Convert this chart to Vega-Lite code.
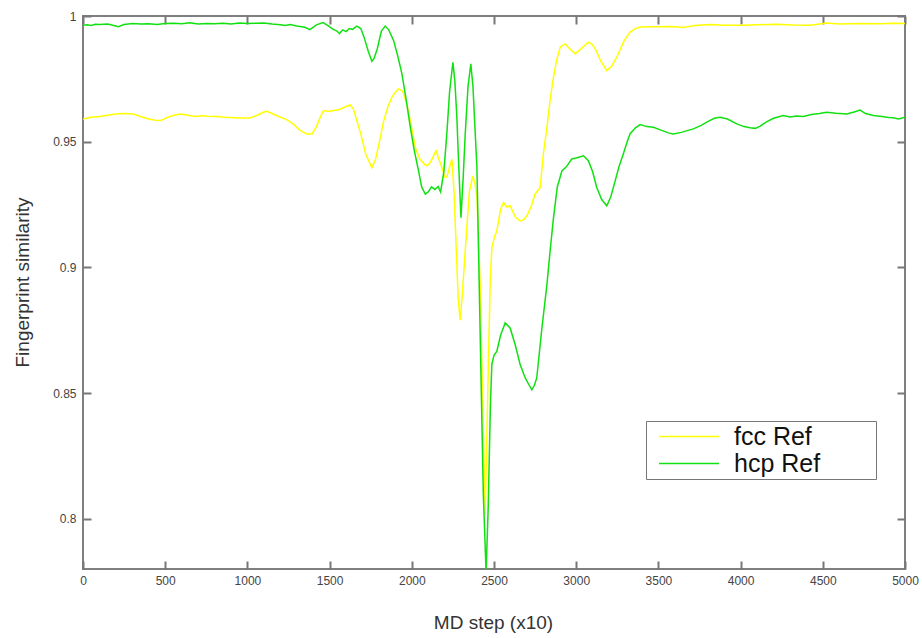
{
  "$schema": "https://vega.github.io/schema/vega-lite/v6.json",
  "width": 822,
  "height": 553,
  "autosize": {"type": "none"},
  "padding": {"left": 83, "top": 16, "right": 17, "bottom": 69},
  "background": "white",
  "config": {
    "font": "Liberation Sans",
    "view": {"stroke": "#7f7f7f", "strokeWidth": 2},
    "axis": {"domain": false, "grid": false, "ticks": true, "tickColor": "#777777", "tickWidth": 2, "tickSize": 8, "offset": -8, "labelFont": "Liberation Sans", "labelFontSize": 12, "labelColor": "#444", "titleFont": "Liberation Sans", "titleFontSize": 19, "titleFontWeight": "normal", "titleColor": "#333"}
  },
  "data": {"values": [
    {"s":"fcc Ref","x":0,"y":0.959},{"s":"fcc Ref","x":50,"y":0.9597},{"s":"fcc Ref","x":100,"y":0.96},{"s":"fcc Ref","x":150,"y":0.9605},{"s":"fcc Ref","x":200,"y":0.961},{"s":"fcc Ref","x":250,"y":0.9612},{"s":"fcc Ref","x":306,"y":0.961},{"s":"fcc Ref","x":350,"y":0.96},{"s":"fcc Ref","x":400,"y":0.959},{"s":"fcc Ref","x":440,"y":0.9585},{"s":"fcc Ref","x":470,"y":0.9584},{"s":"fcc Ref","x":520,"y":0.9598},{"s":"fcc Ref","x":560,"y":0.9606},{"s":"fcc Ref","x":592,"y":0.961},{"s":"fcc Ref","x":640,"y":0.9605},{"s":"fcc Ref","x":680,"y":0.96},{"s":"fcc Ref","x":720,"y":0.9603},{"s":"fcc Ref","x":760,"y":0.9601},{"s":"fcc Ref","x":814,"y":0.96},{"s":"fcc Ref","x":860,"y":0.9597},{"s":"fcc Ref","x":900,"y":0.9596},{"s":"fcc Ref","x":950,"y":0.9594},{"s":"fcc Ref","x":1017,"y":0.9594},{"s":"fcc Ref","x":1060,"y":0.9605},{"s":"fcc Ref","x":1100,"y":0.9618},{"s":"fcc Ref","x":1119,"y":0.9621},{"s":"fcc Ref","x":1150,"y":0.9612},{"s":"fcc Ref","x":1190,"y":0.96},{"s":"fcc Ref","x":1241,"y":0.9587},{"s":"fcc Ref","x":1280,"y":0.957},{"s":"fcc Ref","x":1320,"y":0.9545},{"s":"fcc Ref","x":1362,"y":0.9531},{"s":"fcc Ref","x":1393,"y":0.9531},{"s":"fcc Ref","x":1420,"y":0.956},{"s":"fcc Ref","x":1445,"y":0.96},{"s":"fcc Ref","x":1463,"y":0.9624},{"s":"fcc Ref","x":1490,"y":0.962},{"s":"fcc Ref","x":1524,"y":0.9624},{"s":"fcc Ref","x":1560,"y":0.9628},{"s":"fcc Ref","x":1600,"y":0.964},{"s":"fcc Ref","x":1626,"y":0.9646},{"s":"fcc Ref","x":1645,"y":0.963},{"s":"fcc Ref","x":1666,"y":0.9583},{"s":"fcc Ref","x":1690,"y":0.953},{"s":"fcc Ref","x":1720,"y":0.945},{"s":"fcc Ref","x":1757,"y":0.9397},{"s":"fcc Ref","x":1780,"y":0.943},{"s":"fcc Ref","x":1800,"y":0.949},{"s":"fcc Ref","x":1828,"y":0.958},{"s":"fcc Ref","x":1855,"y":0.964},{"s":"fcc Ref","x":1879,"y":0.9677},{"s":"fcc Ref","x":1900,"y":0.9697},{"s":"fcc Ref","x":1920,"y":0.971},{"s":"fcc Ref","x":1945,"y":0.97},{"s":"fcc Ref","x":1970,"y":0.965},{"s":"fcc Ref","x":1995,"y":0.957},{"s":"fcc Ref","x":2021,"y":0.9477},{"s":"fcc Ref","x":2050,"y":0.943},{"s":"fcc Ref","x":2080,"y":0.9408},{"s":"fcc Ref","x":2095,"y":0.9404},{"s":"fcc Ref","x":2115,"y":0.942},{"s":"fcc Ref","x":2148,"y":0.9464},{"s":"fcc Ref","x":2165,"y":0.943},{"s":"fcc Ref","x":2183,"y":0.9397},{"s":"fcc Ref","x":2200,"y":0.936},{"s":"fcc Ref","x":2213,"y":0.9358},{"s":"fcc Ref","x":2230,"y":0.94},{"s":"fcc Ref","x":2244,"y":0.943},{"s":"fcc Ref","x":2257,"y":0.93},{"s":"fcc Ref","x":2270,"y":0.9078},{"s":"fcc Ref","x":2282,"y":0.888},{"s":"fcc Ref","x":2294,"y":0.879},{"s":"fcc Ref","x":2306,"y":0.888},{"s":"fcc Ref","x":2325,"y":0.9065},{"s":"fcc Ref","x":2350,"y":0.93},{"s":"fcc Ref","x":2371,"y":0.9364},{"s":"fcc Ref","x":2385,"y":0.933},{"s":"fcc Ref","x":2396,"y":0.928},{"s":"fcc Ref","x":2416,"y":0.8932},{"s":"fcc Ref","x":2430,"y":0.85},{"s":"fcc Ref","x":2446,"y":0.8014},{"s":"fcc Ref","x":2462,"y":0.85},{"s":"fcc Ref","x":2477,"y":0.895},{"s":"fcc Ref","x":2487,"y":0.9078},{"s":"fcc Ref","x":2502,"y":0.912},{"s":"fcc Ref","x":2517,"y":0.9145},{"s":"fcc Ref","x":2540,"y":0.923},{"s":"fcc Ref","x":2558,"y":0.9258},{"s":"fcc Ref","x":2578,"y":0.924},{"s":"fcc Ref","x":2598,"y":0.9245},{"s":"fcc Ref","x":2630,"y":0.92},{"s":"fcc Ref","x":2659,"y":0.9185},{"s":"fcc Ref","x":2680,"y":0.919},{"s":"fcc Ref","x":2700,"y":0.9205},{"s":"fcc Ref","x":2725,"y":0.924},{"s":"fcc Ref","x":2750,"y":0.9291},{"s":"fcc Ref","x":2781,"y":0.9318},{"s":"fcc Ref","x":2800,"y":0.945},{"s":"fcc Ref","x":2822,"y":0.9557},{"s":"fcc Ref","x":2842,"y":0.967},{"s":"fcc Ref","x":2862,"y":0.9757},{"s":"fcc Ref","x":2883,"y":0.983},{"s":"fcc Ref","x":2903,"y":0.9876},{"s":"fcc Ref","x":2933,"y":0.989},{"s":"fcc Ref","x":2960,"y":0.987},{"s":"fcc Ref","x":2994,"y":0.985},{"s":"fcc Ref","x":3030,"y":0.987},{"s":"fcc Ref","x":3074,"y":0.9896},{"s":"fcc Ref","x":3095,"y":0.9888},{"s":"fcc Ref","x":3115,"y":0.987},{"s":"fcc Ref","x":3150,"y":0.982},{"s":"fcc Ref","x":3186,"y":0.9783},{"s":"fcc Ref","x":3215,"y":0.98},{"s":"fcc Ref","x":3247,"y":0.9836},{"s":"fcc Ref","x":3290,"y":0.99},{"s":"fcc Ref","x":3328,"y":0.9936},{"s":"fcc Ref","x":3360,"y":0.995},{"s":"fcc Ref","x":3389,"y":0.9956},{"s":"fcc Ref","x":3450,"y":0.9957},{"s":"fcc Ref","x":3511,"y":0.9957},{"s":"fcc Ref","x":3580,"y":0.9958},{"s":"fcc Ref","x":3652,"y":0.9954},{"s":"fcc Ref","x":3720,"y":0.9962},{"s":"fcc Ref","x":3815,"y":0.9966},{"s":"fcc Ref","x":3900,"y":0.9963},{"s":"fcc Ref","x":4018,"y":0.9963},{"s":"fcc Ref","x":4100,"y":0.9965},{"s":"fcc Ref","x":4220,"y":0.9967},{"s":"fcc Ref","x":4320,"y":0.9964},{"s":"fcc Ref","x":4423,"y":0.9963},{"s":"fcc Ref","x":4524,"y":0.9972},{"s":"fcc Ref","x":4600,"y":0.9968},{"s":"fcc Ref","x":4727,"y":0.997},{"s":"fcc Ref","x":4850,"y":0.9969},{"s":"fcc Ref","x":4930,"y":0.9971},{"s":"fcc Ref","x":5000,"y":0.997},
    {"s":"hcp Ref","x":0,"y":0.9963},{"s":"hcp Ref","x":25,"y":0.9965},{"s":"hcp Ref","x":50,"y":0.9962},{"s":"hcp Ref","x":75,"y":0.9967},{"s":"hcp Ref","x":100,"y":0.9966},{"s":"hcp Ref","x":150,"y":0.9968},{"s":"hcp Ref","x":200,"y":0.996},{"s":"hcp Ref","x":215,"y":0.9957},{"s":"hcp Ref","x":250,"y":0.9966},{"s":"hcp Ref","x":300,"y":0.997},{"s":"hcp Ref","x":350,"y":0.9968},{"s":"hcp Ref","x":400,"y":0.9969},{"s":"hcp Ref","x":450,"y":0.9966},{"s":"hcp Ref","x":500,"y":0.997},{"s":"hcp Ref","x":550,"y":0.9971},{"s":"hcp Ref","x":600,"y":0.9969},{"s":"hcp Ref","x":650,"y":0.9973},{"s":"hcp Ref","x":700,"y":0.9968},{"s":"hcp Ref","x":750,"y":0.997},{"s":"hcp Ref","x":800,"y":0.9969},{"s":"hcp Ref","x":850,"y":0.9971},{"s":"hcp Ref","x":900,"y":0.9968},{"s":"hcp Ref","x":950,"y":0.9972},{"s":"hcp Ref","x":1000,"y":0.997},{"s":"hcp Ref","x":1050,"y":0.9971},{"s":"hcp Ref","x":1100,"y":0.9972},{"s":"hcp Ref","x":1150,"y":0.9968},{"s":"hcp Ref","x":1200,"y":0.9965},{"s":"hcp Ref","x":1230,"y":0.9962},{"s":"hcp Ref","x":1260,"y":0.9966},{"s":"hcp Ref","x":1300,"y":0.996},{"s":"hcp Ref","x":1350,"y":0.9955},{"s":"hcp Ref","x":1380,"y":0.9946},{"s":"hcp Ref","x":1420,"y":0.9965},{"s":"hcp Ref","x":1460,"y":0.9974},{"s":"hcp Ref","x":1490,"y":0.9962},{"s":"hcp Ref","x":1520,"y":0.9948},{"s":"hcp Ref","x":1545,"y":0.994},{"s":"hcp Ref","x":1560,"y":0.993},{"s":"hcp Ref","x":1580,"y":0.9945},{"s":"hcp Ref","x":1600,"y":0.9938},{"s":"hcp Ref","x":1620,"y":0.995},{"s":"hcp Ref","x":1640,"y":0.9947},{"s":"hcp Ref","x":1665,"y":0.996},{"s":"hcp Ref","x":1690,"y":0.995},{"s":"hcp Ref","x":1710,"y":0.9915},{"s":"hcp Ref","x":1735,"y":0.986},{"s":"hcp Ref","x":1757,"y":0.982},{"s":"hcp Ref","x":1770,"y":0.983},{"s":"hcp Ref","x":1790,"y":0.987},{"s":"hcp Ref","x":1815,"y":0.994},{"s":"hcp Ref","x":1838,"y":0.996},{"s":"hcp Ref","x":1860,"y":0.9945},{"s":"hcp Ref","x":1889,"y":0.9903},{"s":"hcp Ref","x":1915,"y":0.984},{"s":"hcp Ref","x":1940,"y":0.977},{"s":"hcp Ref","x":1965,"y":0.967},{"s":"hcp Ref","x":1991,"y":0.9557},{"s":"hcp Ref","x":2015,"y":0.9465},{"s":"hcp Ref","x":2041,"y":0.9384},{"s":"hcp Ref","x":2060,"y":0.932},{"s":"hcp Ref","x":2082,"y":0.9291},{"s":"hcp Ref","x":2100,"y":0.93},{"s":"hcp Ref","x":2120,"y":0.932},{"s":"hcp Ref","x":2140,"y":0.931},{"s":"hcp Ref","x":2160,"y":0.9322},{"s":"hcp Ref","x":2175,"y":0.93},{"s":"hcp Ref","x":2195,"y":0.938},{"s":"hcp Ref","x":2213,"y":0.9531},{"s":"hcp Ref","x":2230,"y":0.97},{"s":"hcp Ref","x":2250,"y":0.9816},{"s":"hcp Ref","x":2262,"y":0.974},{"s":"hcp Ref","x":2274,"y":0.9597},{"s":"hcp Ref","x":2287,"y":0.938},{"s":"hcp Ref","x":2299,"y":0.9198},{"s":"hcp Ref","x":2312,"y":0.935},{"s":"hcp Ref","x":2325,"y":0.9531},{"s":"hcp Ref","x":2342,"y":0.972},{"s":"hcp Ref","x":2359,"y":0.981},{"s":"hcp Ref","x":2372,"y":0.972},{"s":"hcp Ref","x":2386,"y":0.9531},{"s":"hcp Ref","x":2396,"y":0.94},{"s":"hcp Ref","x":2406,"y":0.9065},{"s":"hcp Ref","x":2420,"y":0.86},{"s":"hcp Ref","x":2435,"y":0.81},{"s":"hcp Ref","x":2452,"y":0.7785},{"s":"hcp Ref","x":2465,"y":0.805},{"s":"hcp Ref","x":2478,"y":0.845},{"s":"hcp Ref","x":2487,"y":0.8614},{"s":"hcp Ref","x":2500,"y":0.865},{"s":"hcp Ref","x":2517,"y":0.8666},{"s":"hcp Ref","x":2540,"y":0.873},{"s":"hcp Ref","x":2568,"y":0.8779},{"s":"hcp Ref","x":2598,"y":0.8759},{"s":"hcp Ref","x":2630,"y":0.869},{"s":"hcp Ref","x":2659,"y":0.8613},{"s":"hcp Ref","x":2690,"y":0.856},{"s":"hcp Ref","x":2715,"y":0.853},{"s":"hcp Ref","x":2730,"y":0.8513},{"s":"hcp Ref","x":2745,"y":0.853},{"s":"hcp Ref","x":2760,"y":0.856},{"s":"hcp Ref","x":2790,"y":0.875},{"s":"hcp Ref","x":2822,"y":0.8932},{"s":"hcp Ref","x":2842,"y":0.907},{"s":"hcp Ref","x":2862,"y":0.9198},{"s":"hcp Ref","x":2885,"y":0.932},{"s":"hcp Ref","x":2913,"y":0.9384},{"s":"hcp Ref","x":2940,"y":0.94},{"s":"hcp Ref","x":2973,"y":0.9431},{"s":"hcp Ref","x":3000,"y":0.9435},{"s":"hcp Ref","x":3044,"y":0.9444},{"s":"hcp Ref","x":3074,"y":0.9424},{"s":"hcp Ref","x":3100,"y":0.938},{"s":"hcp Ref","x":3125,"y":0.9318},{"s":"hcp Ref","x":3155,"y":0.927},{"s":"hcp Ref","x":3186,"y":0.9245},{"s":"hcp Ref","x":3210,"y":0.928},{"s":"hcp Ref","x":3237,"y":0.9344},{"s":"hcp Ref","x":3260,"y":0.94},{"s":"hcp Ref","x":3287,"y":0.9452},{"s":"hcp Ref","x":3310,"y":0.95},{"s":"hcp Ref","x":3328,"y":0.9532},{"s":"hcp Ref","x":3360,"y":0.9555},{"s":"hcp Ref","x":3389,"y":0.9568},{"s":"hcp Ref","x":3430,"y":0.956},{"s":"hcp Ref","x":3470,"y":0.9557},{"s":"hcp Ref","x":3520,"y":0.9545},{"s":"hcp Ref","x":3560,"y":0.9535},{"s":"hcp Ref","x":3591,"y":0.9531},{"s":"hcp Ref","x":3640,"y":0.9537},{"s":"hcp Ref","x":3680,"y":0.9545},{"s":"hcp Ref","x":3713,"y":0.9551},{"s":"hcp Ref","x":3760,"y":0.9565},{"s":"hcp Ref","x":3800,"y":0.958},{"s":"hcp Ref","x":3840,"y":0.9593},{"s":"hcp Ref","x":3875,"y":0.9597},{"s":"hcp Ref","x":3920,"y":0.959},{"s":"hcp Ref","x":3977,"y":0.9571},{"s":"hcp Ref","x":4020,"y":0.956},{"s":"hcp Ref","x":4058,"y":0.9555},{"s":"hcp Ref","x":4090,"y":0.9553},{"s":"hcp Ref","x":4119,"y":0.9562},{"s":"hcp Ref","x":4160,"y":0.958},{"s":"hcp Ref","x":4200,"y":0.9593},{"s":"hcp Ref","x":4260,"y":0.9604},{"s":"hcp Ref","x":4300,"y":0.9598},{"s":"hcp Ref","x":4340,"y":0.9602},{"s":"hcp Ref","x":4382,"y":0.96},{"s":"hcp Ref","x":4430,"y":0.9608},{"s":"hcp Ref","x":4480,"y":0.9612},{"s":"hcp Ref","x":4524,"y":0.9617},{"s":"hcp Ref","x":4580,"y":0.9613},{"s":"hcp Ref","x":4646,"y":0.961},{"s":"hcp Ref","x":4690,"y":0.9618},{"s":"hcp Ref","x":4727,"y":0.9626},{"s":"hcp Ref","x":4760,"y":0.9612},{"s":"hcp Ref","x":4808,"y":0.9604},{"s":"hcp Ref","x":4860,"y":0.96},{"s":"hcp Ref","x":4900,"y":0.9596},{"s":"hcp Ref","x":4929,"y":0.9595},{"s":"hcp Ref","x":4960,"y":0.959},{"s":"hcp Ref","x":5000,"y":0.9597}
  ]},
  "layer": [
    {
      "mark": {"type": "line", "clip": true, "strokeWidth": 1.5, "interpolate": "linear"},
      "encoding": {
        "x": {"field": "x", "type": "quantitative", "scale": {"domain": [0, 5000], "nice": false, "zero": false},
          "axis": {"orient": "bottom", "title": "MD step (x10)", "values": [0,500,1000,1500,2000,2500,3000,3500,4000,4500,5000], "format": "d", "labelFlush": false, "labelOverlap": false, "labelPadding": 6, "titleX": 410, "titleY": 67, "titleAlign": "center", "titleBaseline": "alphabetic"}},
        "y": {"field": "y", "type": "quantitative", "scale": {"domain": [0.78, 1.0], "nice": false, "zero": false},
          "axis": {"orient": "left", "title": "Fingerprint similarity", "values": [0.8,0.85,0.9,0.95,1], "format": ".2~f", "labelFlush": false, "labelOverlap": false, "labelPadding": 7, "titleX": -69, "titleY": 266, "titleAngle": -90, "titleAlign": "center", "titleBaseline": "middle"}},
        "color": {"field": "s", "type": "nominal",
          "scale": {"domain": ["fcc Ref", "hcp Ref"], "range": ["#ffff00", "#11e011"]},
          "legend": {"orient": "none", "legendX": 563, "legendY": 405, "title": null, "symbolType": "M-2.4,0H2.4M14.5,0", "symbolSize": 625, "symbolStrokeWidth": 1.5, "symbolOffset": 27.5, "labelOffset": 31.5, "padding": 2, "rowPadding": 0, "labelFontSize": 25, "labelFont": "Liberation Sans", "labelColor": "#111", "labelLimit": 400, "strokeColor": "#777", "fillColor": "white"}}
      }
    },
    {
      "mark": {"type": "point", "opacity": 0},
      "encoding": {
        "x": {"field": "x", "type": "quantitative", "axis": {"orient": "top", "title": null, "labels": false, "values": [0,500,1000,1500,2000,2500,3000,3500,4000,4500,5000]}},
        "y": {"field": "y", "type": "quantitative", "axis": {"orient": "right", "title": null, "labels": false, "values": [0.8,0.85,0.9,0.95,1]}}
      }
    }
  ],
  "resolve": {"axis": {"x": "independent", "y": "independent"}}
}
